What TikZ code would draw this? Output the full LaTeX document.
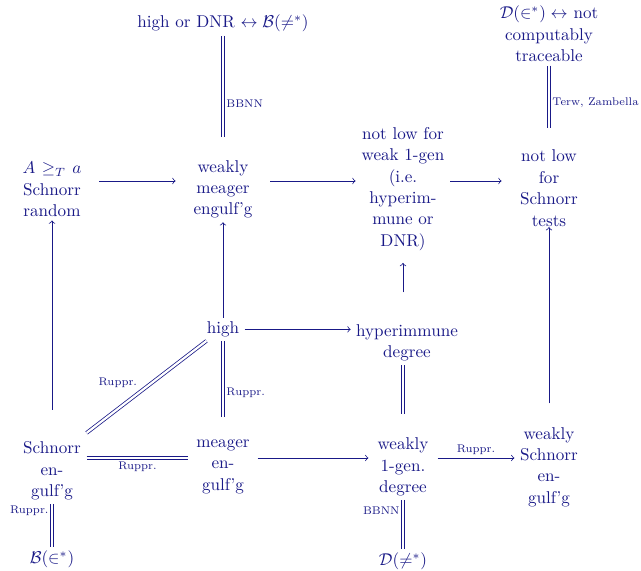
\documentclass[tikz,border=0pt]{standalone}
\usepackage{amsmath,amssymb}
\usepackage{tikz}

\definecolor{ink}{RGB}{25,25,135}
\tikzset{
  ent/.style={align=center, inner xsep=3pt, inner ysep=2pt, font=\fontsize{10}{12.5}\selectfont},
  wide/.style={ent, text width=49pt},
  slim/.style={ent, text width=34pt},
  lbl/.style={font=\fontsize{6.5}{8}\selectfont, inner sep=1.8pt},
  dbl/.style={double, double distance=1.3pt}
}

\begin{document}
\begin{tikzpicture}[x=0.585pt, y=-0.585pt, color=ink, line width=0.45pt]
  \useasboundingbox (0,0) rectangle (641,571);
  \coordinate (RowA) at (0,181);
  \coordinate (RowC) at (0,458);

  \node[ent]  (HighDNR)  at (223,23.5)  {high or DNR $\leftrightarrow\mathcal{B}(\neq^*)$};
  \node[ent]  (DTrace)   at (549,34)    {$\mathcal{D}(\in^*)\leftrightarrow$ not\\computably\\traceable};
  \node[wide] (SchRand)  at (52,189.4)  {$A\geq_T a$\\Schnorr\\random};
  \node[wide] (WkMeager) at (223,189.4) {weakly\\meager\\engulf'g};
  \node[wide] (NotLowW)  at (403,189)   {not low for\\weak 1-gen\\(i.e.\\hyperim-\\mune or\\DNR)};
  \node[wide] (NotLowS)  at (549,188.2) {not low\\for\\Schnorr\\tests};
  \node[ent]  (High)     at (223,329.4) {high};
  \node[ent]  (HypImm)   at (407,343)   {hyperimmune\\degree};
  \node[slim] (SchEng)   at (52,471)    {Schnorr\\en-\\gulf'g};
  \node[slim] (Meager)   at (223,466.7) {meager\\en-\\gulf'g};
  \node[slim] (WkGen)    at (403,467)   {weakly\\1-gen.\\degree};
  \node[slim] (WkSchEng) at (549,467)   {weakly\\Schnorr\\en-\\gulf'g};
  \node[ent]  (BIn)      at (52,559.5)  {$\mathcal{B}(\in^*)$};
  \node[ent]  (DNeq)     at (403,561)   {$\mathcal{D}(\neq^*)$};

  \path (WkSchEng.north) ++(0,-20) coordinate (WkSchTop);
  \path (NotLowS.south) ++(0,-3) coordinate (NotLowSBot);

  \path[->]
    (SchRand.east |- RowA) edge (WkMeager.west |- RowA)
    (WkMeager.east |- RowA) edge (NotLowW.west |- RowA)
    (NotLowW.east |- RowA) edge (NotLowS.west |- RowA)
    (SchEng) edge[shorten <=16.6pt] (SchRand)
    (High) edge (WkMeager)
    (HypImm.north -| NotLowW) edge[shorten <=16.6pt, shorten >=5pt] (NotLowW)
    (High.east) edge (High.east -| HypImm.west)
    (Meager.east |- RowC) edge (WkGen.west |- RowC)
    (WkGen.east |- RowC) edge node[lbl,above]{Ruppr.} (WkSchEng.west |- RowC);
  \draw[->] (WkSchTop) -- (NotLowSBot);

  \path
    (HighDNR) edge[dbl, shorten >=11.4pt] node[lbl,right,pos=.56]{BBNN} (WkMeager)
    (DTrace) edge[dbl, shorten >=10.8pt] node[lbl,right,pos=.455]{Terw, Zambella} (NotLowS)
    (High) edge[dbl, shorten >=11pt] node[lbl,right,pos=.55]{Ruppr.} (Meager)
    (HypImm.south -| WkGen) edge[dbl, shorten >=12pt] (WkGen)
    (WkGen) edge[dbl] node[lbl,left,pos=.22]{BBNN} (DNeq)
    (SchEng) edge[dbl] node[lbl,left,pos=.15]{Ruppr.} (BIn)
    (SchEng.east |- RowC) edge[dbl] node[lbl,below]{Ruppr.} (Meager.west |- RowC)
    ([yshift=3pt]SchEng.north east) edge[dbl] node[lbl,above left,pos=.45]{Ruppr.} ([xshift=3pt]High.south west);
\end{tikzpicture}
\end{document}
